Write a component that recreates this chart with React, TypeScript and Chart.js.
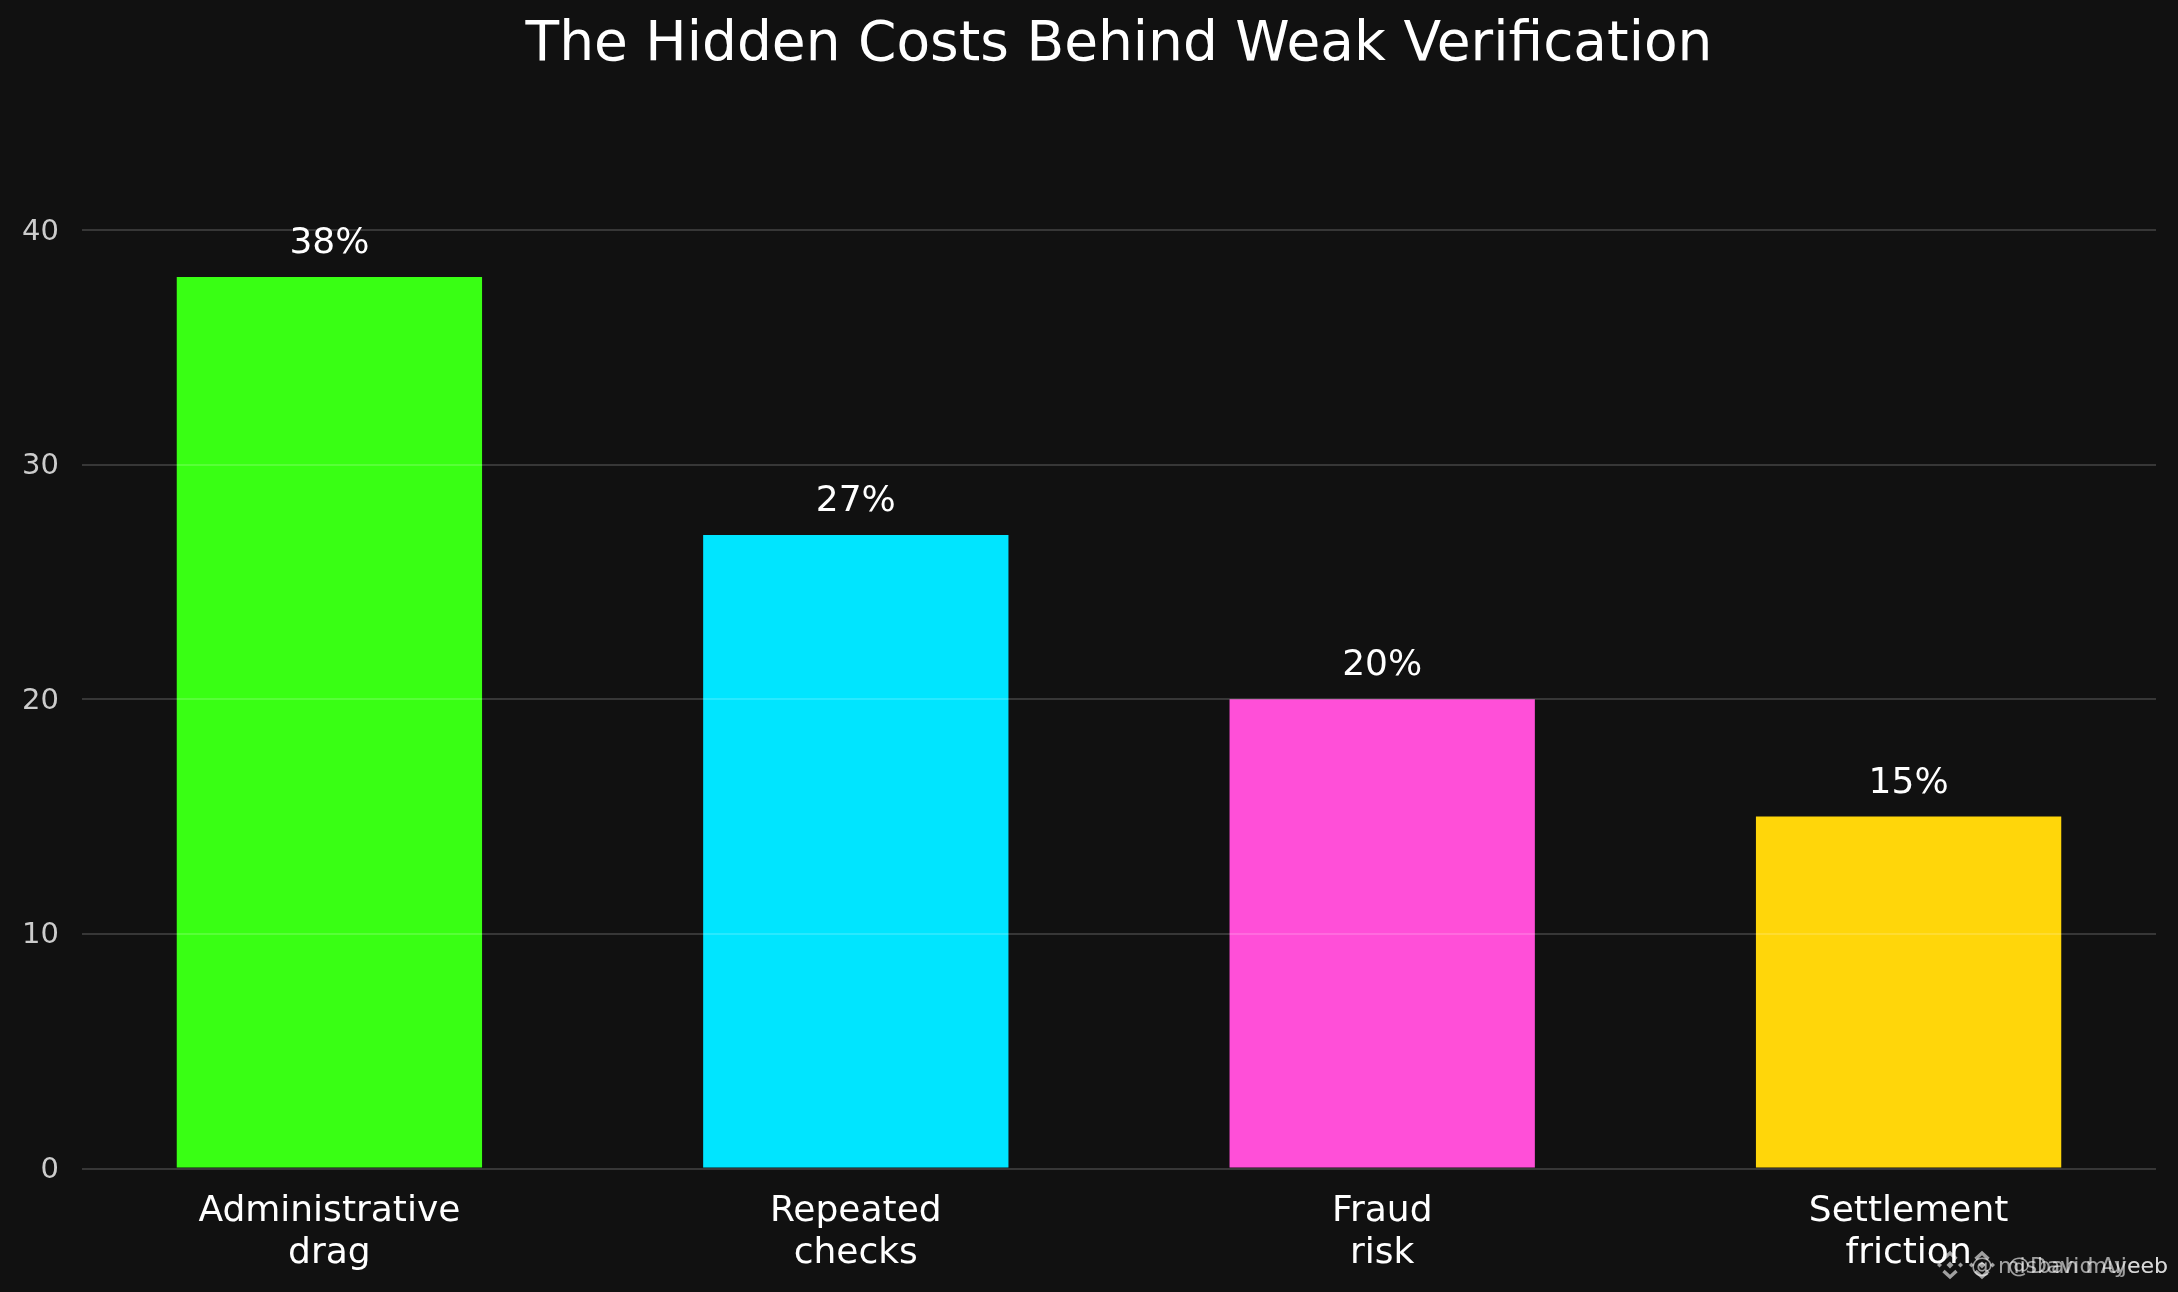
import React, { useEffect, useRef } from "react";
import { Chart, registerables } from "chart.js";

Chart.register(...registerables);

const categories = [["Administrative", "drag"], ["Repeated", "checks"], ["Fraud", "risk"], ["Settlement", "friction"]];
const values = [38, 27, 20, 15];
const barColors = ["#39FF14", "#00E5FF", "#FF4FD8", "#FFD60A"];
const titleText = "The Hidden Costs Behind Weak Verification";
const watermarks = ["misbah mujeeb", "@David Ayeeb"];

const FONT = "'DejaVu Sans'";

const valueLabels = {
  id: "valueLabels",
  afterDatasetsDraw(chart: any) {
    const { ctx } = chart;
    ctx.save();
    ctx.fillStyle = "#ffffff";
    ctx.font = `36px ${FONT}`;
    ctx.textAlign = "center";
    ctx.textBaseline = "alphabetic";
    chart.getDatasetMeta(0).data.forEach((el: any, i: number) => {
      ctx.fillText(`${values[i]}%`, el.x, el.y - 24);
    });
    ctx.restore();
  },
};

function logo(ctx: CanvasRenderingContext2D, cx: number, cy: number) {
  const diamond = (x: number, y: number, r: number) => {
    ctx.beginPath();
    ctx.moveTo(x, y - r);
    ctx.lineTo(x + r, y);
    ctx.lineTo(x, y + r);
    ctx.lineTo(x - r, y);
    ctx.closePath();
    ctx.fill();
  };
  diamond(cx, cy, 3.5);
  diamond(cx - 10.5, cy, 2.5);
  diamond(cx + 10.5, cy, 2.5);
  ctx.lineWidth = 3.4;
  ctx.strokeStyle = ctx.fillStyle as string;
  ctx.beginPath();
  ctx.moveTo(cx - 6.5, cy - 6);
  ctx.lineTo(cx, cy - 12);
  ctx.lineTo(cx + 6.5, cy - 6);
  ctx.moveTo(cx - 6.5, cy + 6);
  ctx.lineTo(cx, cy + 12);
  ctx.lineTo(cx + 6.5, cy + 6);
  ctx.stroke();
}

const watermark = {
  id: "watermark",
  afterDraw(chart: any) {
    const { ctx } = chart;
    ctx.save();
    ctx.fillStyle = "rgba(255,255,255,0.6)";
    logo(ctx, 1950, 1265);
    logo(ctx, 1982, 1265);
    ctx.font = `22px ${FONT}`;
    ctx.textAlign = "right";
    ctx.textBaseline = "alphabetic";
    watermarks.forEach((t) => ctx.fillText(t, 2168, 1273));
    ctx.textAlign = "left";
    ctx.fillText("@", 1971, 1273);
    ctx.restore();
  },
};

export default function App() {
  const ref = useRef<HTMLCanvasElement>(null);
  useEffect(() => {
    document.body.style.margin = "0";
    document.body.style.background = "#111111";
    const chart = new Chart(ref.current!, {
      type: "bar",
      data: {
        datasets: [
          {
            data: values.map((y, x) => ({ x, y })),
            backgroundColor: barColors,
            borderWidth: 0,
            barPercentage: 0.58,
            categoryPercentage: 1,
          },
        ],
      },
      options: {
        animation: false,
        responsive: false,
        devicePixelRatio: 1,
        layout: { padding: { top: 0, right: 22, left: 0, bottom: 0 } },
        plugins: {
          legend: { display: false },
          tooltip: { enabled: false },
          title: {
            display: true,
            fullSize: false,
            text: titleText,
            color: "#ffffff",
            font: { family: FONT, size: 55, weight: "normal", lineHeight: 1.2 },
            padding: { top: 13, bottom: 19.6 },
          },
        },
        scales: {
          x: {
            type: "linear",
            offset: false,
            min: -0.47,
            max: 3.47,
            afterBuildTicks: (s: any) => {
              s.ticks = categories.map((_, i) => ({ value: i }));
            },
            afterFit: (s: any) => {
              s.height = 123.5;
            },
            grid: { display: false, offset: false },
            border: { display: false },
            ticks: {
              autoSkip: false,
              maxRotation: 0,
              padding: 14,
              color: "#ffffff",
              font: { family: FONT, size: 36, lineHeight: 1.175 },
              callback: (v: any) => categories[v],
            },
          },
          y: {
            min: 0,
            max: 45.6,
            afterFit: (s: any) => {
              s.width = 82;
            },
            grid: { color: "rgba(255,255,255,0.16)", lineWidth: 2, z: 1, drawTicks: false },
            border: { display: false },
            ticks: {
              stepSize: 10,
              includeBounds: false,
              padding: 23,
              labelOffset: 2,
              color: "#cccccc",
              font: { family: FONT, size: 29 },
            },
          },
        },
      },
      plugins: [valueLabels, watermark],
    } as any);
    return () => chart.destroy();
  }, []);
  return (
    <div style={{ width: 2178, height: 1292, background: "#111111" }}>
      <canvas ref={ref} width={2178} height={1292} style={{ display: "block", background: "#111111" }} />
    </div>
  );
}
